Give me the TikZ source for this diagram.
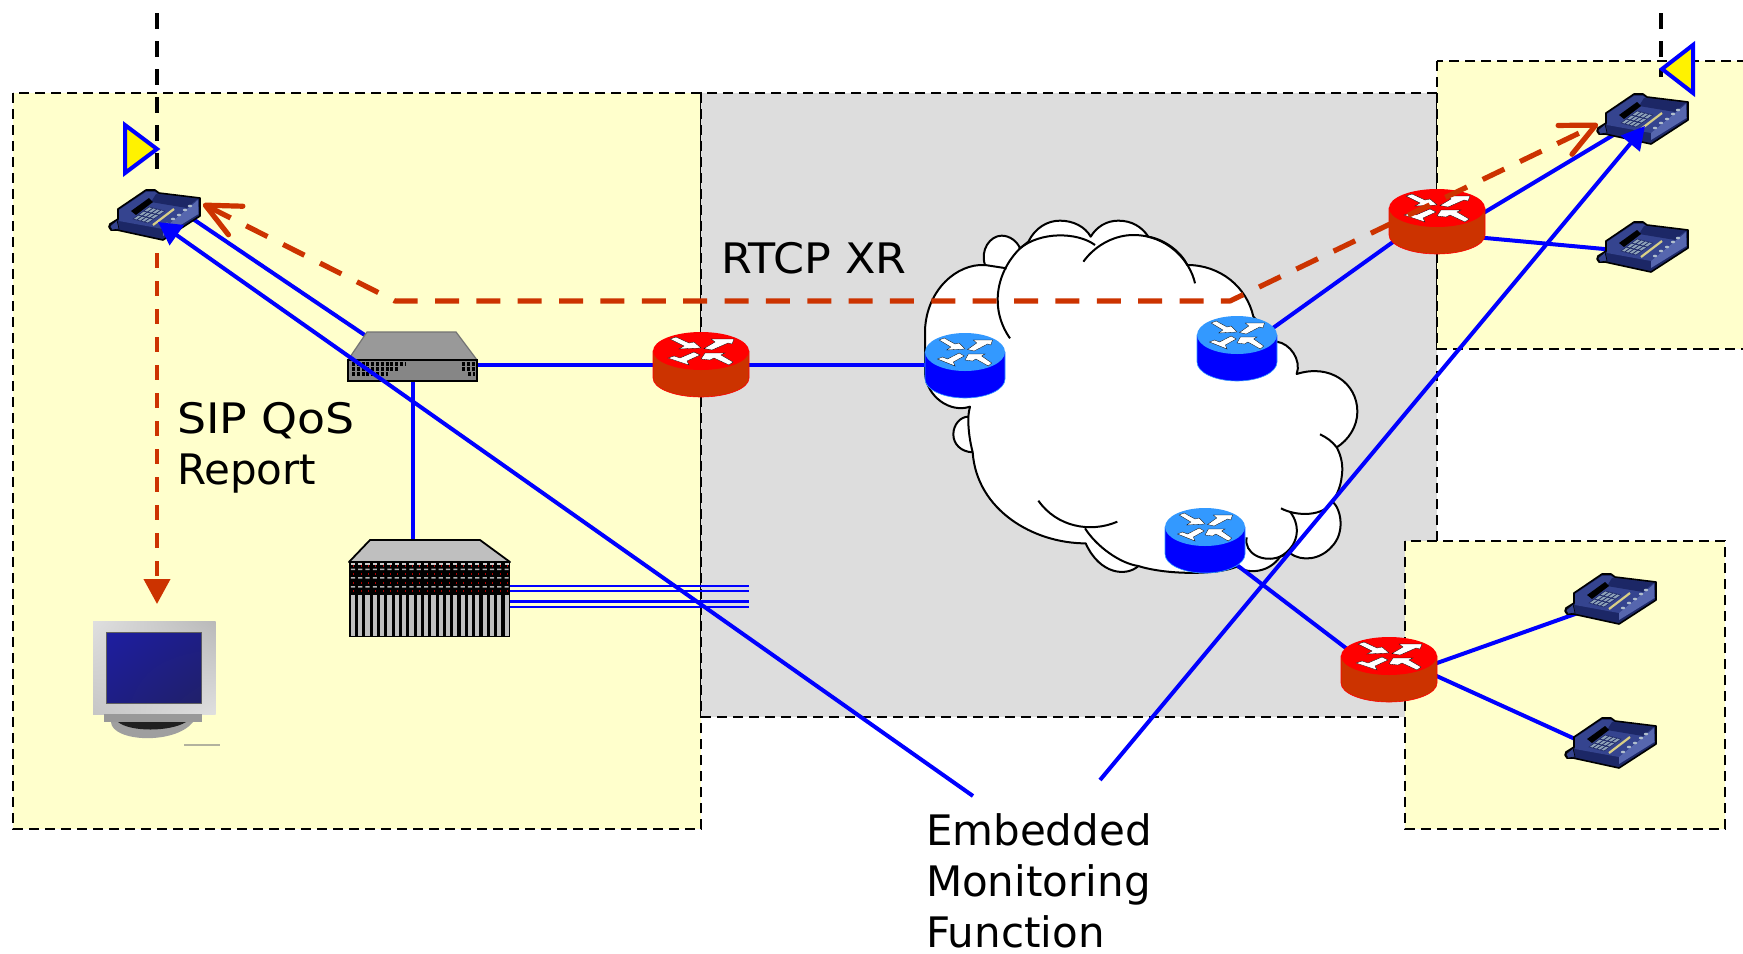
\documentclass[tikz,border=0pt]{standalone}
\usepackage{fontspec}
\setmainfont{DejaVu Sans}
\usetikzlibrary{arrows.meta,calc,shadings}
\definecolor{zoneyellow}{HTML}{FFFFCC}
\definecolor{zonegray}{HTML}{DDDDDD}
\definecolor{linkblue}{HTML}{0000FF}
\definecolor{rust}{HTML}{CC3300}
\definecolor{skyblue}{HTML}{3399FF}
\definecolor{phonebody}{HTML}{35448F}
\definecolor{phonedark}{HTML}{1C2766}
\definecolor{phonelight}{HTML}{5666AE}
\definecolor{phonekey}{HTML}{8FA3B8}
\definecolor{phonestrip}{HTML}{D9CF85}
\definecolor{screenA}{HTML}{1E1EA0}
\definecolor{screenB}{HTML}{1E1E85}
\definecolor{screenC}{HTML}{20206A}
\tikzset{
  zone/.style={draw=black,line width=1pt,dash pattern=on 5pt off 3pt},
  devbox/.style={rectangle,draw=none,inner sep=0pt,outer sep=0pt},
  textlabel/.style={inner sep=0pt,outer sep=0pt,align=left,text depth=0pt,font=\fontsize{21}{25.5}\selectfont,text=black},
  link/.style={draw=linkblue,line width=2pt},
  monitorlink/.style={link,-{Triangle[length=11.5pt,width=12pt]}},
  racklink/.style={draw=linkblue,line width=1.4pt},
  rtcp/.style={draw=rust,line width=2.6pt,dash pattern=on 12pt off 8.68pt,dash phase=19.8pt,
    {Straight Barb[length=17pt,width=16pt,round]}-{Straight Barb[length=17pt,width=16pt,round]}},
  sipflow/.style={draw=rust,line width=2pt,dash pattern=on 7.5pt off 6.5pt,-{Triangle[length=12.5pt,width=13pt]}},
  probe/.style={draw=black,line width=2pt,dash pattern=on 8pt off 6pt},
  tap/.style={draw=linkblue,fill=yellow,line width=2pt},
  cloudline/.style={draw=black,line width=1pt},
  pics/routerpic/.style 2 args={code={
    \path[fill=#2,draw=#1,line width=.3pt] (-48,0) -- (-48,27) arc[start angle=180,end angle=0,x radius=48,y radius=19] -- (48,0) -- cycle;
    \path[fill=#1] (0,0) ellipse[x radius=48,y radius=19];
    \path[fill=white,draw=black,line width=.15pt] (-31,-12) -- (-25,-14) -- (-12,-8) -- (-7,-9) -- (0,-3) -- (-22,-2) -- (-17,-5) -- cycle;
    \path[fill=white,draw=black,line width=.15pt] (3,-2.5) -- (14,-9) -- (10,-12) -- (33,-12) -- (31,-7) -- (27,-8) -- (11,-1) -- cycle;
    \path[fill=white,draw=black,line width=.15pt] (-33,7) -- (-12,14) -- (-14,10) -- (-1,4) -- (-7,1) -- (-21,7) -- (-27,5) -- cycle;
    \path[fill=white,draw=black,line width=.15pt] (0,8) -- (4,2) -- (24,2) -- (20,4) -- (32,11) -- (28,14) -- (13,7) -- (9,9) -- cycle;
  }},
  pics/phonepic/.style={code={
    \path[fill=phonedark,draw=black,line width=.8pt,line join=round] (1,35) -- (9,30) -- (9,20) -- (37,1) -- (46,1) -- (50,4) -- (91,9) -- (91,27) -- (54,51) -- (8,41) -- (2,41) -- (0,38) -- cycle;
    \path[fill=phonebody] (10,21) -- (37,3) -- (46,3) -- (50,6) -- (89,10.5) -- (54,40) -- (10,32) -- cycle;
    \path[fill=phonedark] (47,5) -- (88.5,10) -- (78,19) -- (42,13) -- cycle;
    \path[fill=phonelight] (54,40) -- (89,11) -- (89.5,25) -- (54,47) -- cycle;
    \path[fill=black] (22,22) -- (40,9) -- (44,13) -- (27,26) -- cycle;
    \path[fill=phonekey,draw=phonedark,line width=.3pt] (24,30) -- (40,18) -- (56,22) -- (39,34) -- cycle;
    \foreach \t in {.33,.66} \draw[phonedark,line width=.4pt] ($(24,30)!\t!(40,18)$) -- ($(39,34)!\t!(56,22)$);
    \foreach \t in {.25,.5,.75} \draw[phonedark,line width=.4pt] ($(24,30)!\t!(39,34)$) -- ($(40,18)!\t!(56,22)$);
    \draw[phonestrip,line width=1.1pt] (44,36) -- (65,20);
    \foreach \bx/\by in {58/35,64/30,70/26,76/21,81/17} \path[fill=phonekey!70!white] (\bx,\by) ellipse[x radius=2.2,y radius=1.3];
    \path[fill=phonebody,draw=black,line width=.3pt] (1,37) -- (8,31) -- (10,40) -- (3,41) -- cycle;
  }},
}
\begin{document}
\begin{tikzpicture}[x=0.5pt,y=-0.5pt]
\clip (0,0) rectangle (1743,953);
% zones
\path[zone,fill=zoneyellow] (13,93) rectangle (701,829);
\path[zone,fill=zonegray] (701,93) rectangle (1437,717);
\path[zone,fill=zoneyellow] (1437,61) rectangle (1760,349);
\path[zone,fill=zoneyellow] (1405,541) rectangle (1725,829);
% cloud
\begin{scope}[shift={(900,200)},x=0.16667pt,y=-0.16667pt]
\path[cloudline,fill=white,line join=round] (255,195) .. controls (240,150) and (270,107) .. (305,107) .. controls (330,107) and (352,125) .. (360,145)
  -- (385,125) .. controls (405,85) and (440,62) .. (480,62) .. controls (520,62) and (555,80) .. (572,110)
  .. controls (590,80) and (620,62) .. (655,62) .. controls (695,62) and (725,80) .. (745,110)
  .. controls (800,120) and (845,160) .. (862,195) .. controls (960,195) and (1040,260) .. (1060,350)
  -- (1130,425) .. controls (1170,430) and (1205,480) .. (1190,522)
  .. controls (1290,490) and (1372,550) .. (1372,635) .. controls (1372,680) and (1345,720) .. (1310,742)
  .. controls (1325,770) and (1330,800) .. (1325,830) .. controls (1322,860) and (1310,885) .. (1298,905)
  .. controls (1325,930) and (1335,1000) .. (1295,1040) .. controls (1260,1080) and (1205,1085) .. (1170,1060)
  -- (1140,1070) .. controls (1110,1115) and (1050,1125) .. (1010,1100)
  .. controls (950,1125) and (800,1125) .. (715,1098) .. controls (680,1130) and (600,1125) .. (557,1030)
  .. controls (400,1030) and (230,930) .. (218,757) .. controls (180,755) and (160,730) .. (160,703)
  .. controls (160,675) and (180,650) .. (205,650) .. controls (205,640) and (208,630) .. (210,620)
  .. controls (150,640) and (80,590) .. (75,520) -- (75,390) .. controls (80,270) and (170,190) .. (255,195) -- cycle;
\draw[cloudline] (255,195) -- (320,205);
\draw[cloudline] (205,650) .. controls (204,690) and (210,725) .. (218,757);
\draw[cloudline] (330,415) .. controls (270,330) and (285,220) .. (360,145) .. controls (420,95) and (530,95) .. (585,135);
\draw[cloudline] (550,185) .. controls (590,130) and (650,105) .. (700,105) .. controls (800,105) and (870,180) .. (885,250);
\draw[cloudline] (1260,703) .. controls (1280,712) and (1297,725) .. (1310,742);
\draw[cloudline] (1143,925) .. controls (1190,950) and (1270,950) .. (1298,905);
\draw[cloudline] (1170,935) .. controls (1205,980) and (1195,1040) .. (1140,1070) .. controls (1090,1090) and (1030,1060) .. (1040,1012);
\draw[cloudline] (415,902) .. controls (470,980) and (570,1000) .. (652,965);
\draw[cloudline] (555,985) .. controls (590,1040) and (660,1090) .. (715,1098);
\end{scope}
% device anchors
\node[devbox,minimum width=46pt,minimum height=26pt] (phoneA) at (155,215) {};
\node[devbox,minimum width=46pt,minimum height=26pt] (phoneB) at (1643,119) {};
\node[devbox,minimum width=46pt,minimum height=26pt] (phoneC) at (1643,247) {};
\node[devbox,minimum width=46pt,minimum height=26pt] (phoneD) at (1611,599) {};
\node[devbox,minimum width=46pt,minimum height=26pt] (phoneE) at (1611,743) {};
\node[devbox,minimum width=48pt,minimum height=32.5pt] (redA) at (701,364.5) {};
\node[devbox,minimum width=48pt,minimum height=32.5pt] (redB) at (1437,221) {};
\node[devbox,minimum width=48pt,minimum height=32.5pt] (redC) at (1389,669) {};
\node[devbox,minimum width=40pt,minimum height=32.5pt] (blueA) at (965,364.5) {};
\node[devbox,minimum width=40pt,minimum height=32.5pt] (blueB) at (1237,348) {};
\node[devbox,minimum width=40pt,minimum height=32.5pt] (blueC) at (1205,540) {};
\node[devbox,minimum width=64.5pt,minimum height=24.5pt] (switch) at (412.5,356.5) {};
\node[devbox,minimum width=80.5pt,minimum height=48.5pt] (rack) at (429.5,588.5) {};
\node[devbox,minimum width=61pt,minimum height=59pt] (monitor) at (154,679.5) {};
\node[devbox,minimum width=17pt,minimum height=24pt] (tapA) at (141,149) {};
\node[devbox,minimum width=17pt,minimum height=24pt] (tapB) at (1677,69) {};
% probes
\coordinate (probeAtop) at (157,13);
\coordinate (probeBtop) at (1661,13);
\draw[probe] (probeAtop) -- ([shift={(16,20)}]tapA.center);
\draw[probe] (probeBtop) -- ([shift={(-16,8)}]tapB.center);
% links beneath the icons
\draw[link] ([shift={(-37.5,-14.5)}]switch.center) -- ([shift={(35,2)}]phoneA.center);
\draw[link] ([shift={(0,8)}]switch.east) -- (redA.west);
\draw[link] (redA.east) -- (blueA.west);
\draw[link] ([shift={(0.5,0)}]switch.south) -- ([shift={(-16.5,0)}]rack.north);
\foreach \dy in {-2.5,2.5,13,18.5} \draw[racklink] ([shift={(0,\dy)}]rack.east) -- ++(239,0);
\draw[link] ([shift={(-17,-10.7)}]blueB.east) -- ([shift={(14,13.8)}]redB.west);
\draw[link] ([shift={(-5,-6)}]redB.east) -- ([shift={(-18,9)}]phoneB.center);
\draw[link] ([shift={(-5,16.5)}]redB.east) -- ([shift={(-28,3)}]phoneC.center);
\draw[link] ([shift={(20,16)}]blueC.center) -- ([shift={(-34,-14)}]redC.center);
\draw[link] ([shift={(41,-3.5)}]redC.center) -- ([shift={(-26,11.5)}]phoneD.center);
\draw[link] ([shift={(41,4)}]redC.center) -- ([shift={(-26,.5)}]phoneE.center);
% icons
\pic at (109,189) {phonepic};
\pic at (1597,93) {phonepic};
\pic at (1597,221) {phonepic};
\pic at (1565,573) {phonepic};
\pic at (1565,717) {phonepic};
\pic at (701,351) {routerpic={red}{rust}};
\pic at (1437,208) {routerpic={red}{rust}};
\pic at (1389,656) {routerpic={red}{rust}};
\pic[xscale=.8333] at (965,352) {routerpic={skyblue}{linkblue}};
\pic[xscale=.8333] at (1237,335) {routerpic={skyblue}{linkblue}};
\pic[xscale=.8333] at (1205,527) {routerpic={skyblue}{linkblue}};
% switch
\path[fill=gray!80,draw=gray!90!black,line width=.6pt] (367,332) -- (456,332) -- (477,360) -- (348,360) -- cycle;
\path[fill=gray!95,draw=black,line width=.8pt] (348,360) rectangle (477,381);
\foreach \yy/\xa in {364/405,369/398,374/388} \draw[black,line width=1.6pt,dash pattern=on 1.5pt off .9pt] (352,\yy) -- (\xa,\yy);
\foreach \yy/\xa in {364/462,369/462,374/468} \draw[black,line width=1.6pt,dash pattern=on 1.5pt off .9pt] (\xa,\yy) -- (475,\yy);
% rack
\path[fill=gray!50,draw=black,line width=.9pt,line join=round] (370,540) -- (480,540) -- (510,562) -- (349,562) -- cycle;
\path[fill=black] (349,562) rectangle (510,637);
\foreach \i in {0,...,21} {
  \pgfmathsetmacro{\xl}{349+7.32*\i+1.8}
  \pgfmathsetmacro{\xr}{\xl+4.2}
  \pgfmathsetmacro{\xm}{\xl+2.6}
  \path[fill=gray!50] (\xl,594.5) rectangle (\xr,635.5);
  \path[fill=gray!60] (\xl,568.5) rectangle (\xr,570) (\xl,577) rectangle (\xr,578.5) (\xl,586) rectangle (\xr,587.5);
  \path[fill=gray!40] (\xl,563) rectangle (\xr,564.5);
  \foreach \ry in {566,574,583,591} \path[fill=red!70!black] (\xm,\ry-1) rectangle ++(.7,2);
}
% monitor
\path[lower left=gray!45,upper left=gray!25,upper right=gray!55,lower right=gray!25,shading=bilinear interpolation] (93,621) rectangle (215.5,714);
\path[fill=gray!75!black] (106,632) rectangle (202,704);
\path[upper left=screenA,upper right=screenB,lower left=screenB,lower right=screenC,shading=bilinear interpolation] (107,633.5) rectangle (201,702.5);
\path[fill=gray!75] (111,722) .. controls (112,742) and (175,745) .. (193,722) -- cycle;
\path[fill=gray!25!black] (118,722) .. controls (130,732) and (170,732) .. (186,722) -- cycle;
\path[fill=gray!80] (104,714) rectangle (202,722);
\draw[line width=.6pt,draw=gray!60!zoneyellow] (184,745) -- (220,745);
% long monitoring links and flows
\coordinate (embedA) at (973,796);
\coordinate (embedB) at (1100,780);
\draw[monitorlink] (embedA) -- ([shift={(3,7)}]phoneA.center);
\draw[monitorlink] (embedB) -- ([shift={(2,7)}]phoneB.center);
\coordinate (flowA) at (395,301);
\coordinate (flowB) at (1230,301);
\draw[rtcp,line join=round] ([shift={(48,-11)}]phoneA.center) -- (flowA) -- (flowB) -- ([shift={(-45,5)}]phoneB.center);
\draw[sipflow] ([shift={(2,38)}]phoneA.center) -- ([shift={(3,-16.5)}]monitor.north);
% taps
\path[tap] (125,125) -- (125,173) -- (157,149) -- cycle;
\path[tap] (1693,45) -- (1693,93) -- (1662,69) -- cycle;
% labels
\node[textlabel,anchor=base west] (rtcplabel) at (721,273) {\addfontfeature{FakeStretch=1.058}RTCP XR};
\node[textlabel,anchor=north west] (siplabel) at (177,402) {{\addfontfeature{FakeStretch=1.09}SIP QoS}\\Report};
\node[textlabel,anchor=north west] (embedlabel) at (926,814) {Embedded\\Monitoring\\Function};
\end{tikzpicture}
\end{document}
